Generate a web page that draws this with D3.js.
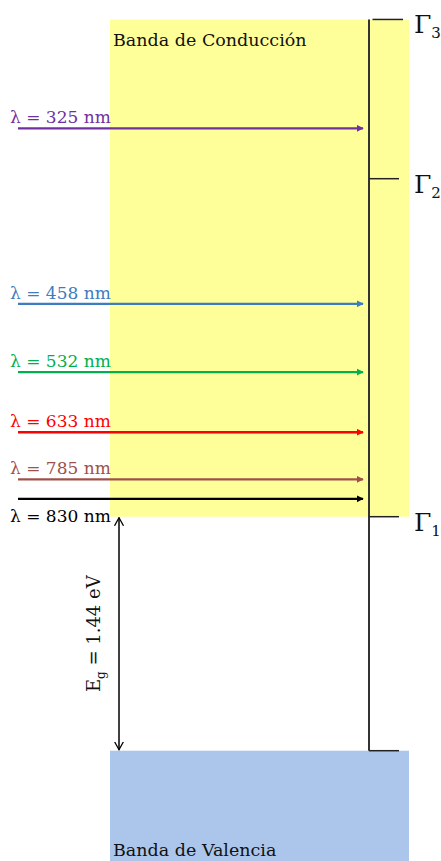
<!DOCTYPE html>
<html>
<head>
<meta charset="utf-8">
<script src="https://cdn.jsdelivr.net/npm/d3@7"></script>
<style>
  body { margin: 0; background: #fff; }
  text { font-family: "DejaVu Serif", "Liberation Serif", serif; }
</style>
</head>
<body>
<div id="chart"></div>
<script>
var w = 441;
var h = 861;

// laser lines (energy in eV above valence band top)
var wavelengths = [325, 458, 532, 633, 785, 830];
var lineEnergy = [3.83, 2.75, 2.33, 1.96, 1.67, 1.55];
var lineColors = ["#7030a0", "#3d7cc0", "#00b050", "#ff0000", "#a0504c", "#000000"];

// conduction band levels
var levelNames = ["1", "2", "3"];
var levelEnergy = [1.44, 3.52, 4.50];

var gap = 1.44;
var bandTop = 4.50;

var y = d3.scaleLinear()
    .domain([0, gap])
    .range([750.7, 516.7]);

var svg = d3.select("#chart")
    .append("svg")
    .attr("width", w)
    .attr("height", h);

var defs = svg.append("defs");

lineColors.forEach(function (c, i) {
    defs.append("marker")
        .attr("id", "head" + i)
        .attr("viewBox", "0 0 10 10")
        .attr("refX", 9)
        .attr("refY", 5)
        .attr("markerWidth", 3)
        .attr("markerHeight", 3)
        .attr("markerUnits", "strokeWidth")
        .attr("orient", "auto")
        .append("path")
        .attr("d", "M0,0 L10,5 L0,10 z")
        .attr("fill", c);
});

defs.append("marker")
    .attr("id", "open")
    .attr("viewBox", "0 0 10 10")
    .attr("refX", 9)
    .attr("refY", 5)
    .attr("markerWidth", 9)
    .attr("markerHeight", 12)
    .attr("markerUnits", "userSpaceOnUse")
    .attr("orient", "auto-start-reverse")
    .append("path")
    .attr("d", "M0,0 L9,5 L0,10")
    .attr("fill", "none")
    .attr("stroke", "#000")
    .attr("stroke-width", 1.4);

// conduction band
svg.append("rect")
    .attr("x", 110)
    .attr("y", y(bandTop))
    .attr("width", 299)
    .attr("height", y(gap) - y(bandTop))
    .attr("fill", "#ffff99");

// valence band
svg.append("rect")
    .attr("x", 110)
    .attr("y", y(0))
    .attr("width", 299)
    .attr("height", h - y(0))
    .attr("fill", "#abc6ea");

svg.append("text")
    .attr("x", 113)
    .attr("y", 46)
    .attr("font-size", 17.5)
    .attr("fill", "#111")
    .text("Banda de Conducción");

svg.append("text")
    .attr("x", 113)
    .attr("y", 856)
    .attr("font-size", 17.5)
    .attr("fill", "#111")
    .text("Banda de Valencia");

// energy axis with levels
svg.append("line")
    .attr("x1", 369).attr("x2", 369)
    .attr("y1", y(bandTop)).attr("y2", y(0))
    .attr("stroke", "#333")
    .attr("stroke-width", 2);

svg.selectAll(".level")
    .data(levelEnergy.concat([0]))
    .enter()
    .append("line")
    .attr("class", "level")
    .attr("x1", function (d, i) { return i === 2 ? 372.5 : 369; })
    .attr("x2", function (d, i) { return i === 2 ? 403 : 399; })
    .attr("y1", function (d) { return y(d); })
    .attr("y2", function (d) { return y(d); })
    .attr("stroke", "#222")
    .attr("stroke-width", 1.5);

var gl = svg.selectAll(".gname")
    .data(levelEnergy)
    .enter()
    .append("text")
    .attr("class", "gname")
    .attr("x", 414)
    .attr("y", function (d) { return y(d) + 14; })
    .attr("font-size", 25)
    .attr("fill", "#111");
gl.append("tspan").text("Γ");
gl.append("tspan")
    .attr("font-size", 15)
    .attr("dy", 5)
    .text(function (d, i) { return levelNames[i]; });

// laser arrows
svg.selectAll(".laser")
    .data(lineEnergy)
    .enter()
    .append("line")
    .attr("class", "laser")
    .attr("x1", 18)
    .attr("x2", 363)
    .attr("y1", function (d) { return y(d); })
    .attr("y2", function (d) { return y(d); })
    .attr("stroke", function (d, i) { return lineColors[i]; })
    .attr("stroke-width", 2.4)
    .attr("marker-end", function (d, i) { return "url(#head" + i + ")"; });

svg.selectAll(".wl")
    .data(wavelengths)
    .enter()
    .append("text")
    .attr("class", "wl")
    .attr("x", 10)
    .attr("y", function (d, i) {
        return i === wavelengths.length - 1 ? y(lineEnergy[i]) + 23 : y(lineEnergy[i]) - 5;
    })
    .attr("font-size", 17)
    .attr("fill", function (d, i) { return lineColors[i]; })
    .text(function (d) { return "λ = " + d + " nm"; });

// band gap arrow
svg.append("line")
    .attr("x1", 119).attr("x2", 119)
    .attr("y1", y(gap) + 1).attr("y2", y(0) - 1)
    .attr("stroke", "#000")
    .attr("stroke-width", 1.5)
    .attr("marker-start", "url(#open)")
    .attr("marker-end", "url(#open)");

var eg = svg.append("text")
    .attr("transform", "translate(100," + y(gap / 2) + ") rotate(-90)")
    .attr("text-anchor", "middle")
    .attr("font-size", 18)
    .attr("fill", "#111");
eg.append("tspan").text("E");
eg.append("tspan").attr("font-size", 12).attr("dy", 5).text("g");
eg.append("tspan").attr("dy", -5).text(" = 1.44 eV");
</script>
</body>
</html>
